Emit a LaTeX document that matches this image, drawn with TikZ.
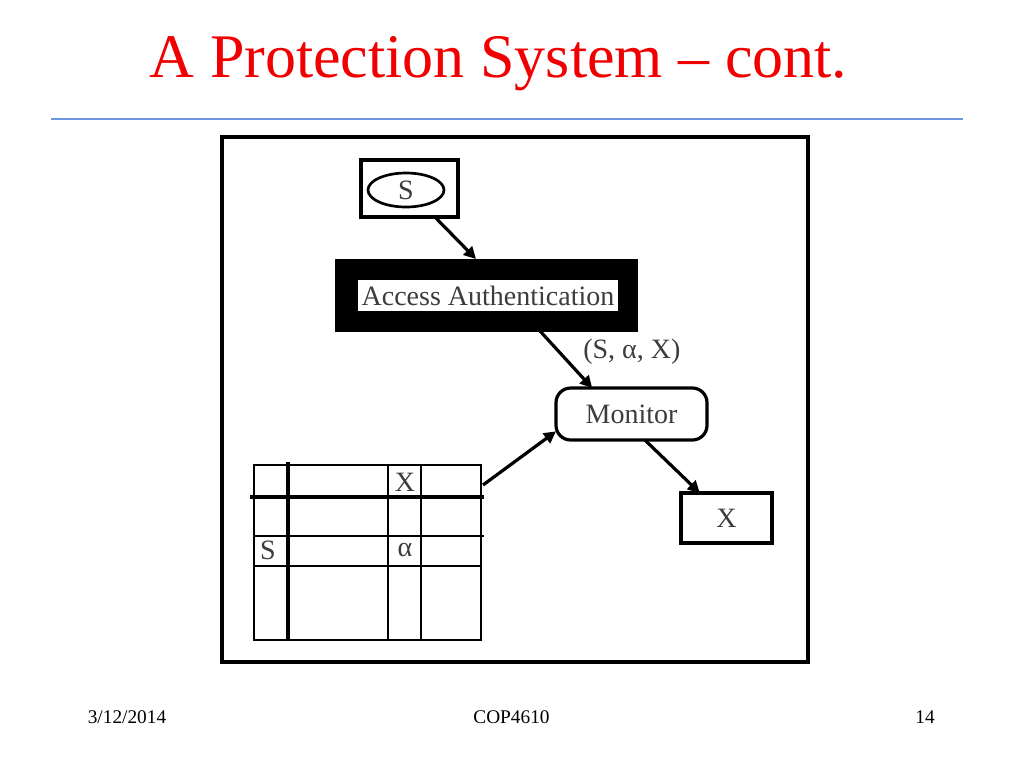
\documentclass[tikz,border=0pt]{standalone}
\usepackage{fontspec}
\setmainfont{Liberation Serif}
\usetikzlibrary{arrows.meta,calc,shapes.geometric}
\definecolor{titlered}{RGB}{240,0,0}
\definecolor{rulblue}{RGB}{110,150,225}
\definecolor{dtext}{RGB}{60,60,60}
\begin{document}
\begin{tikzpicture}[x=0.75pt,y=-0.75pt,
  box/.style={draw=black,line width=2.4pt,fill=white,inner sep=0pt,outer sep=0pt},
  lbl/.style={text=dtext,font=\fontsize{21}{23}\selectfont,inner sep=0pt},
  conn/.style={line width=2.4pt,-{Triangle[length=9pt,width=9pt]}},
  grid/.style={line width=1.1pt},
  thick line/.style={line width=3.6pt},
  foot/.style={inner sep=0pt,anchor=base,font=\fontsize{14.5}{16}\selectfont}]
\useasboundingbox (0,0) rectangle (1024,768);
% title
\node[text=titlered,inner sep=0pt,anchor=base,font=\fontsize{46.5}{50}\selectfont] (title) at (498.5,77) {A Protection System -- cont.};
\draw[rulblue,line width=1.2pt] (51,119) coordinate (r1) -- (963,119) coordinate (r2);
% outer frame
\draw[line width=2.8pt] (222,137) rectangle (808,662);
% S box
\node[box,minimum width=72.75pt,minimum height=42.75pt] (sbox) at (409.5,188.5) {};
\node[draw,ellipse,line width=2pt,minimum width=57pt,minimum height=25.5pt,inner sep=0pt,lbl] (sell) at (406,190) {S};
% Access authentication
\node[fill=black,draw=black,inner sep=0pt,outer sep=0pt,minimum width=226.5pt,minimum height=54pt] (auth) at (486,295) {};
\node[fill=white,inner sep=0pt,minimum width=195pt,minimum height=23.25pt,lbl] (authin) at (488,295.5) {Access Authentication};
% Monitor
\node[box,rounded corners=11pt,minimum width=113.25pt,minimum height=39pt,lbl] (mon) at (631.5,414) {Monitor};
% X box
\node[box,minimum width=68.25pt,minimum height=37.5pt,lbl] (xbox) at (726.5,518) {X};
% table
\node[draw=black,line width=2.2pt,inner sep=0pt,outer sep=0pt,minimum width=170.25pt,minimum height=131.25pt] (tbl) at (367.5,552.5) {};
\draw[grid] (388,465) -- (388,640);
\draw[grid] (421,465) -- (421,640);
\draw[grid] (254,536) -- (484,536);
\draw[grid] (254,566) -- (481,566);
\draw[thick line] (288,462) -- (288,641);
\draw[thick line] (250,497) -- (484,497);
\node[lbl] (tx) at (405,482) {X};
\node[lbl] (ts) at (268,550) {S};
\node[lbl] (ta) at (405,550) {α};
\coordinate (tblout) at (483,485);
% connectors
\draw[conn] ([xshift=19pt]sbox.south) -- ([xshift=-7.5pt]auth.north);
\draw[conn] ([xshift=40.5pt]auth.south) -- ([xshift=-29.5pt]mon.north);
\draw[conn] ([xshift=10pt]mon.south) -- ([xshift=-20pt]xbox.north);
\draw[conn] (tblout) -- ([yshift=-13pt]mon.west);
\node[lbl,anchor=west] (lab) at (583,352) {(S, α, X)};
% footer
\node[foot] (f1) at (127,723) {3/12/2014};
\node[foot] (f2) at (511.5,723) {COP4610};
\node[foot] (f3) at (925,723) {14};
\end{tikzpicture}
\end{document}
